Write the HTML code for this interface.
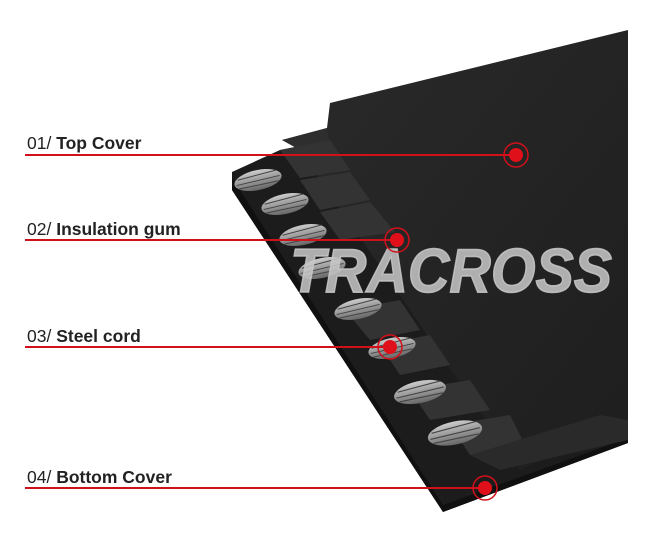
<!DOCTYPE html>
<html><head><style>
body{margin:0;background:#fff;}
svg{display:block}
text{font-family:"Liberation Sans",sans-serif;}
</style></head><body>
<svg width="650" height="539" viewBox="0 0 650 539" xmlns="http://www.w3.org/2000/svg">
<defs>
<linearGradient id="tg" x1="0" y1="0" x2="1" y2="1">
<stop offset="0" stop-color="#2a2a2a"/><stop offset="1" stop-color="#1e1e1e"/></linearGradient>
<linearGradient id="cg" x1="0" y1="0" x2="0" y2="1">
<stop offset="0" stop-color="#ccc"/><stop offset="0.5" stop-color="#999"/><stop offset="1" stop-color="#666"/></linearGradient>
<g id="cord">
<ellipse cx="0" cy="0" rx="24" ry="10" fill="url(#cg)"/>
<path d="M-20,-4 L20,-6 M-22,1 L22,0 M-20,5 L20,5" stroke="#444" stroke-width="1"/>
</g>
</defs>
<polygon points="232,172 280,150 330,140 628,300 628,443 443,512 232,190" fill="#1c1c1c"/>
<polygon points="232,178 443,505 628,438 628,443 443,512 232,190" fill="#101010"/>
<polygon points="330,103 628,30 628,420 520,470 300,150 282,140 327,128" fill="url(#tg)"/>
<polygon points="282,140 327,128 330,150 300,150" fill="#2e2e2e"/>
<g fill="#333">
<polygon points="280,150 330,140 350,170 300,178"/>
<polygon points="300,180 350,172 370,200 320,210"/>
<polygon points="320,212 370,202 395,232 340,240"/>
<polygon points="345,310 400,300 420,330 370,340"/>
<polygon points="380,345 430,335 450,365 400,375"/>
<polygon points="410,390 470,380 490,410 430,420"/>
<polygon points="450,425 510,415 525,445 470,455"/>
</g>
<polygon points="470,455 600,415 628,420 628,440 500,470" fill="#2a2a2a"/>
<use href="#cord" transform="translate(258 180) rotate(-12)"/>
<use href="#cord" transform="translate(285 204) rotate(-12)"/>
<use href="#cord" transform="translate(303 235) rotate(-12)"/>
<use href="#cord" transform="translate(322 268) rotate(-12)"/>
<use href="#cord" transform="translate(358 309) rotate(-12)"/>
<use href="#cord" transform="translate(392 348) rotate(-12)"/>
<use href="#cord" transform="translate(420 392) rotate(-12) scale(1.1)"/>
<use href="#cord" transform="translate(455 433) rotate(-12) scale(1.15)"/>
<text x="290" y="292" font-size="62" font-weight="bold" font-style="italic" fill="#c8c8c8" fill-opacity="0.85" stroke="#c8c8c8" stroke-width="1.5" stroke-opacity="0.85" textLength="322" lengthAdjust="spacingAndGlyphs">TRACROSS</text>
<g fill="#222" font-size="17.5">
<text x="27" y="149">01/ <tspan font-weight="bold">Top Cover</tspan></text>
<text x="27" y="235">02/ <tspan font-weight="bold">Insulation gum</tspan></text>
<text x="27" y="342">03/ <tspan font-weight="bold">Steel cord</tspan></text>
<text x="27" y="483">04/ <tspan font-weight="bold">Bottom Cover</tspan></text>
</g>
<g stroke="#d0101a" stroke-width="2" fill="none">
<line x1="25" y1="155" x2="516" y2="155"/>
<line x1="25" y1="240" x2="397" y2="240"/>
<line x1="25" y1="347" x2="390" y2="347"/>
<line x1="25" y1="488" x2="485" y2="488"/>
<circle cx="516" cy="155" r="12" stroke-width="1.5"/>
<circle cx="397" cy="240" r="12" stroke-width="1.5"/>
<circle cx="390" cy="347" r="12" stroke-width="1.5"/>
<circle cx="485" cy="488" r="12" stroke-width="1.5"/>
</g>
<g fill="#e0101a">
<circle cx="516" cy="155" r="7"/><circle cx="397" cy="240" r="7"/>
<circle cx="390" cy="347" r="7"/><circle cx="485" cy="488" r="7"/>
</g>
</svg>
</body></html>
